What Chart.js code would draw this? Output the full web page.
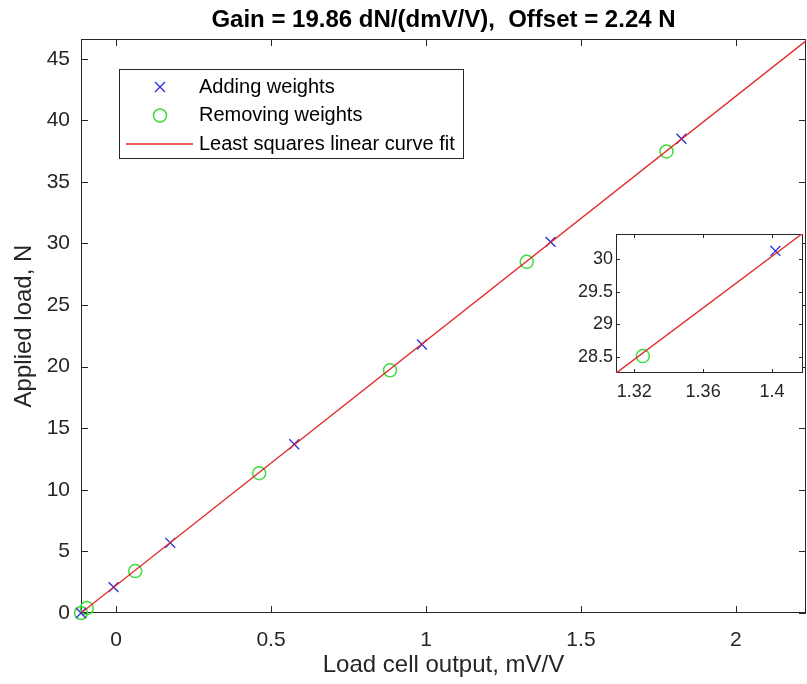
<!DOCTYPE html>
<html>
<head>
<meta charset="utf-8">
<script src="https://cdn.jsdelivr.net/npm/chart.js@4.4.1/dist/chart.umd.min.js"></script>
<style>
  body { margin: 0; background: #fff; }
  #wrap { position: relative; width: 807px; height: 684px; }
  #main { position: absolute; left: 0; top: 0; }
  #inset { position: absolute; left: 556px; top: 222px; }
</style>
</head>
<body>
<div id="wrap">
  <canvas id="main" width="807" height="684"></canvas>
  <canvas id="inset" width="251" height="195"></canvas>
</div>
<script>
// readings (load cell output in mV/V, applied load in N)
const addX = [-0.113, -0.008, 0.175, 0.575, 0.987, 1.402, 1.824];
const addY = [0.0, 2.1, 5.7, 13.7, 21.8, 30.13, 38.5];
const remX = [-0.113, -0.094, 0.062, 0.462, 0.884, 1.325, 1.776];
const remY = [0.0, 0.4, 3.4, 11.35, 19.7, 28.51, 37.47];
const fitX = [-0.113, 2.226];
const fitY = [0.0, 46.45];

const xTicks = [0, 0.5, 1, 1.5, 2];
const yTicks = [0, 5, 10, 15, 20, 25, 30, 35, 40, 45];
const insetXTicks = [1.32, 1.36, 1.40];
const insetYTicks = [28.5, 29, 29.5, 30];

const titleText = 'Gain = 19.86 dN/(dmV/V),  Offset = 2.24 N';
const xTitle = 'Load cell output, mV/V';
const yTitle = 'Applied load, N';

const fg = '#262626';
const family = '"Liberation Sans", Arial, sans-serif';
Chart.defaults.font.family = family;

function pts(xs, ys) { return xs.map((x, i) => ({ x: x, y: ys[i] })); }

function makeDatasets(clipIt) {
  return [
    { label: 'Adding weights', data: pts(addX, addY), pointStyle: 'crossRot', pointRadius: 7,
      borderColor: '#2b2bdf', backgroundColor: 'rgba(0,0,0,0)', pointBorderWidth: 1.3,
      showLine: false, clip: clipIt ? undefined : false, order: 2 },
    { label: 'Removing weights', data: pts(remX, remY), pointStyle: 'circle', pointRadius: 6.5,
      borderColor: '#3fdc3f', backgroundColor: 'rgba(0,0,0,0)', pointBorderWidth: 1.5,
      showLine: false, clip: clipIt ? undefined : false, order: 3 },
    { label: 'Least squares linear curve fit', data: pts(fitX, fitY), showLine: true,
      pointRadius: 0, borderColor: '#e32626', borderWidth: 1.3, order: 1 }
  ];
}

// matlab style box with inward ticks on all four sides, title centred on the axes
const boxTicks = {
  id: 'boxTicks',
  beforeDatasetsDraw(chart, args, opts) {
    const { ctx, chartArea: a, scales: { x, y } } = chart;
    const L = opts.len || 6;
    ctx.save();
    ctx.fillStyle = '#fff';
    ctx.fillRect(a.left, a.top, a.right - a.left, a.bottom - a.top);
    ctx.strokeStyle = fg;
    ctx.lineWidth = 1;
    ctx.strokeRect(a.left + 0.5, a.top + 0.5, a.right - a.left - 1, a.bottom - a.top - 1);
    ctx.beginPath();
    x.ticks.forEach(t => {
      const px = Math.round(x.getPixelForValue(t.value)) + 0.5;
      ctx.moveTo(px, a.bottom); ctx.lineTo(px, a.bottom - L);
      ctx.moveTo(px, a.top); ctx.lineTo(px, a.top + L);
    });
    y.ticks.forEach(t => {
      const py = Math.round(y.getPixelForValue(t.value)) + 0.5;
      ctx.moveTo(a.left, py); ctx.lineTo(a.left + L, py);
      ctx.moveTo(a.right, py); ctx.lineTo(a.right - L, py);
    });
    ctx.stroke();
    if (opts.title) {
      ctx.fillStyle = '#000';
      ctx.font = 'bold 24px ' + family;
      ctx.textAlign = 'center';
      ctx.textBaseline = 'middle';
      ctx.fillText(opts.title, (a.left + a.right) / 2, opts.titleY);
    }
    ctx.restore();
  }
};

// legend box inside the axes, top left
const boxLegend = {
  id: 'boxLegend',
  afterDraw(chart, args, opts) {
    if (!opts.show) return;
    const ctx = chart.ctx;
    const b = opts.box;
    ctx.save();
    ctx.fillStyle = '#fff';
    ctx.fillRect(b.x, b.y, b.w, b.h);
    ctx.strokeStyle = fg;
    ctx.lineWidth = 1;
    ctx.strokeRect(b.x + 0.5, b.y + 0.5, b.w, b.h);
    ctx.font = '20px ' + family;
    ctx.textBaseline = 'middle';
    chart.data.datasets.forEach((ds, i) => {
      const cy = b.y + opts.rowTop + i * opts.rowGap;
      ctx.strokeStyle = ds.borderColor;
      if (ds.showLine) {
        ctx.lineWidth = ds.borderWidth;
        ctx.beginPath();
        ctx.moveTo(b.x + 7, cy); ctx.lineTo(b.x + 74, cy);
        ctx.stroke();
      } else {
        ctx.lineWidth = ds.pointBorderWidth;
        ctx.fillStyle = 'rgba(0,0,0,0)';
        Chart.helpers.drawPoint(ctx, { pointStyle: ds.pointStyle, radius: ds.pointRadius, borderWidth: ds.pointBorderWidth, rotation: 0 }, b.x + 41, cy);
      }
      ctx.fillStyle = '#000';
      ctx.fillText(ds.label, b.x + 80, cy);
    });
    ctx.restore();
  }
};

function fixTicks(list) {
  return s => { s.ticks = list.map(v => ({ value: v })); };
}
function fixSize(prop, size) {
  return s => {
    s[prop] = size;
    s.paddingLeft = 0; s.paddingRight = 0; s.paddingTop = 0; s.paddingBottom = 0;
  };
}
const fmt = v => String(+Number(v).toFixed(2));

new Chart(document.getElementById('main'), {
  type: 'scatter',
  data: { datasets: makeDatasets(false) },
  plugins: [boxTicks, boxLegend],
  options: {
    responsive: false,
    animation: false,
    events: [],
    layout: { autoPadding: false, padding: { left: 0, right: 1, top: 39, bottom: 0 } },
    plugins: {
      legend: { display: false },
      tooltip: { enabled: false },
      title: { display: false },
      boxTicks: { len: 7, title: titleText, titleY: 20 },
      boxLegend: { show: true, box: { x: 119, y: 69, w: 344, h: 89 }, rowTop: 18, rowGap: 28.5 }
    },
    scales: {
      x: {
        type: 'linear', min: -0.113, max: 2.226,
        grid: { display: false, drawTicks: false }, border: { display: false },
        afterBuildTicks: fixTicks(xTicks),
        afterFit: fixSize('height', 71),
        ticks: { color: fg, font: { size: 21 }, padding: 15, callback: fmt, maxRotation: 0 },
        title: { display: true, text: xTitle, color: fg, font: { size: 24 }, padding: { top: 0, bottom: 4.6 } }
      },
      y: {
        type: 'linear', min: 0, max: 46.6,
        grid: { display: false, drawTicks: false }, border: { display: false },
        afterBuildTicks: fixTicks(yTicks),
        afterFit: fixSize('width', 81),
        ticks: { color: fg, font: { size: 21 }, padding: 11, callback: fmt },
        title: { display: true, text: yTitle, color: fg, font: { size: 24 }, padding: { top: 10, bottom: 0 } }
      }
    }
  }
});

new Chart(document.getElementById('inset'), {
  type: 'scatter',
  data: { datasets: makeDatasets(true) },
  plugins: [boxTicks],
  options: {
    responsive: false,
    animation: false,
    events: [],
    layout: { autoPadding: false, padding: { left: 0, right: 4, top: 12, bottom: 0 } },
    plugins: {
      legend: { display: false },
      tooltip: { enabled: false },
      title: { display: false },
      boxTicks: { len: 4 }
    },
    scales: {
      x: {
        type: 'linear', min: 1.3094, max: 1.418,
        grid: { display: false, drawTicks: false }, border: { display: false },
        afterBuildTicks: fixTicks(insetXTicks),
        afterFit: fixSize('height', 44),
        ticks: { color: fg, font: { size: 18 }, padding: 8, callback: fmt, maxRotation: 0 }
      },
      y: {
        type: 'linear', min: 28.25, max: 30.39,
        grid: { display: false, drawTicks: false }, border: { display: false },
        afterBuildTicks: fixTicks(insetYTicks),
        afterFit: fixSize('width', 60),
        ticks: { color: fg, font: { size: 18 }, padding: 3, callback: fmt }
      }
    }
  }
});
</script>
</body>
</html>
